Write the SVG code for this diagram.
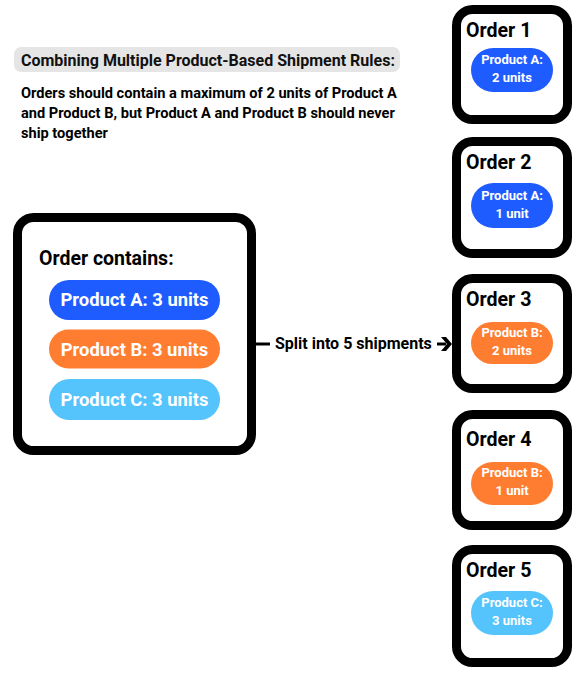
<svg xmlns="http://www.w3.org/2000/svg" width="579" height="676" viewBox="0 0 579 676">
<style>
text{font-family:Roboto,"Liberation Sans",Arial,sans-serif;font-weight:700}
.box{fill:#fff;stroke:#000;stroke-width:9}
.pa{fill:#1f5cff}.pb{fill:#ff7d31}.pc{fill:#55c3fc}
.pt{fill:#fff;font-size:18.4px;text-anchor:middle}
.st{fill:#fff;font-size:13px;text-anchor:middle}
.ot{fill:#000;font-size:19.6px}
</style>
<rect width="579" height="676" fill="#fff"/>
<g id="header">
<rect x="14" y="47" width="386" height="25" rx="7" fill="#e5e5e5"/>
<text x="21" y="66" font-size="16" fill="#111">Combining Multiple Product-Based Shipment Rules:</text>
<text font-size="14.6" fill="#000"><tspan x="21" y="98">Orders should contain a maximum of 2 units of Product A</tspan><tspan x="21" y="118">and Product B, but Product A and Product B should never</tspan><tspan x="21" y="138">ship together</tspan></text>
</g>
<g id="source">
<rect class="box" x="17.5" y="217.5" width="234" height="233" rx="16"/>
<text x="39" y="265" font-size="19.5" fill="#000">Order contains:</text>
<rect class="pa" x="49" y="280" width="171" height="40" rx="20"/>
<text class="pt" x="134.5" y="306">Product A: 3 units</text>
<rect class="pb" x="49" y="329.5" width="171" height="39" rx="19.5"/>
<text class="pt" x="134.5" y="355.5">Product B: 3 units</text>
<rect class="pc" x="49" y="379" width="171" height="41" rx="20.5"/>
<text class="pt" x="134.5" y="405.5">Product C: 3 units</text>
</g>
<g id="connectors">
<line x1="256" y1="344" x2="270" y2="344" stroke="#000" stroke-width="3"/>
<text x="275" y="349" font-size="16" fill="#000">Split into 5 shipments</text>
<line x1="437" y1="344" x2="446" y2="344" stroke="#000" stroke-width="3"/>
<path d="M441 337 L446 337 L452 344 L446 351 L441 351 L447 344 Z" fill="#000"/>
</g>
<g id="order1">
<rect class="box" x="456.5" y="9.5" width="111" height="110" rx="16"/>
<text class="ot" x="466" y="37">Order 1</text>
<rect class="pa" x="471" y="48" width="82" height="44" rx="22"/>
<text class="st" x="512" y="64">Product A:</text>
<text class="st" x="512" y="82">2 units</text>
</g>
<g id="order2">
<rect class="box" x="456.5" y="141.5" width="111" height="112" rx="16"/>
<text class="ot" x="466" y="169">Order 2</text>
<rect class="pa" x="471" y="183" width="82" height="45" rx="22.5"/>
<text class="st" x="512" y="200">Product A:</text>
<text class="st" x="512" y="218">1 unit</text>
</g>
<g id="order3">
<rect class="box" x="456.5" y="278.5" width="111" height="110" rx="16"/>
<text class="ot" x="466" y="306">Order 3</text>
<rect class="pb" x="471" y="322" width="82" height="42" rx="21"/>
<text class="st" x="512" y="337">Product B:</text>
<text class="st" x="512" y="355">2 units</text>
</g>
<g id="order4">
<rect class="box" x="456.5" y="414.5" width="111" height="111" rx="16"/>
<text class="ot" x="466" y="446">Order 4</text>
<rect class="pb" x="471" y="462" width="82" height="43" rx="21.5"/>
<text class="st" x="512" y="477">Product B:</text>
<text class="st" x="512" y="495">1 unit</text>
</g>
<g id="order5">
<rect class="box" x="456.5" y="549.5" width="111" height="113" rx="16"/>
<text class="ot" x="466" y="577">Order 5</text>
<rect class="pc" x="471" y="591" width="82" height="44" rx="22"/>
<text class="st" x="512" y="607">Product C:</text>
<text class="st" x="512" y="625">3 units</text>
</g>
</svg>
